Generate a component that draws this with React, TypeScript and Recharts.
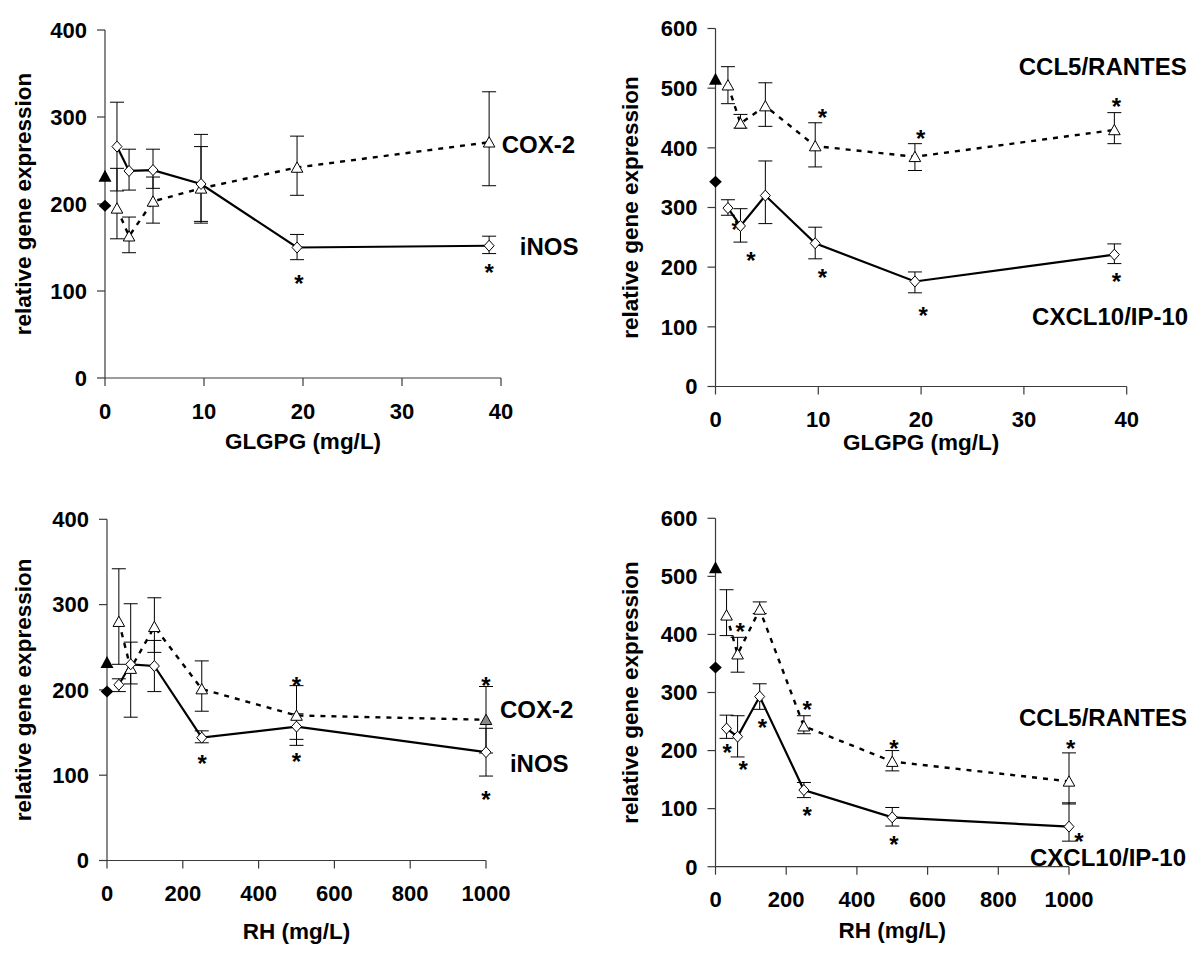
import React from 'react';
import { ComposedChart, Line, Scatter, XAxis, YAxis, ErrorBar, ReferenceDot } from 'recharts';

// ---------- data ----------
const glgpgDose = [1.21, 2.43, 4.85, 9.7, 19.4, 38.8];
const rhDose = [31.25, 62.5, 125, 250, 500, 1000];

const glgpgTicks = [0, 10, 20, 30, 40];
const rhTicks = [0, 200, 400, 600, 800, 1000];
const ticks400 = [0, 100, 200, 300, 400];
const ticks600 = [0, 100, 200, 300, 400, 500, 600];

// untreated controls (plotted at dose 0, filled symbols)
const controlCox2 = 232;
const controlInos = 198;
const controlCcl5 = 515;
const controlCxcl10 = 343;

// GLGPG: iNOS (solid, diamonds) / COX-2 (dashed, triangles)
const inosGlgpg = [266, 238, 239, 223, 150, 152];
const inosGlgpgErr = [[51, 51], [22, 25], [21, 24], [43, 43], [14, 15], [9, 11]];
const coxGlgpg = [195, 163, 203, 218, 242, 271];
const coxGlgpgErr = [[35, 46], [19, 22], [25, 28], [40, 62], [32, 36], [50, 58]];
const starsGlgpgA = [{ x: 19.6, y: 114 }, { x: 38.8, y: 126 }];
const labelsGlgpgA = [{ text: 'COX-2', x: 40.07, y: 268 }, { text: 'iNOS', x: 41.9, y: 151 }];

// GLGPG: CXCL10 (solid, diamonds) / CCL5 (dashed, triangles)
const cxcl10Glgpg = [299, 269, 320, 240, 176, 221];
const cxcl10GlgpgErr = [[12, 14], [27, 29], [47, 58], [26, 27], [19, 16], [15, 18]];
const ccl5Glgpg = [505, 441, 470, 403, 385, 430];
const ccl5GlgpgErr = [[31, 31], [8, 15], [34, 39], [35, 39], [23, 22], [23, 29]];
const starsGlgpgB = [
  { x: 2.0, y: 270 }, { x: 3.45, y: 218 }, { x: 10.4, y: 458 }, { x: 10.4, y: 190 },
  { x: 19.95, y: 424 }, { x: 20.2, y: 127 }, { x: 39.0, y: 477 }, { x: 39.0, y: 184 },
];
const labelsGlgpgB = [{ text: 'CCL5/RANTES', x: 29.5, y: 536 }, { text: 'CXCL10/IP-10', x: 30.8, y: 117 }];

// RH: iNOS / COX-2
const inosRh = [206, 230, 228, 144, 157, 127];
const inosRhErr = [[8, 7], [23, 26], [30, 30], [6, 8], [15, 15], [28, 28]];
const coxRh = [280, 225, 274, 201, 170, 165];
const coxRhErr = [[50, 62], [57, 76], [30, 34], [26, 33], [35, 35], [39, 39]];
const starsRhA = [
  { x: 251, y: 119 }, { x: 500, y: 210 }, { x: 500, y: 121 }, { x: 1000, y: 210 }, { x: 1000, y: 77 },
];
const labelsRhA = [{ text: 'COX-2', x: 1037, y: 177 }, { text: 'iNOS', x: 1063, y: 114 }];

// RH: CXCL10 / CCL5
const cxcl10Rh = [238, 224, 293, 132, 85, 69];
const cxcl10RhErr = [[17, 23], [35, 36], [22, 22], [13, 13], [15, 17], [25, 41]];
const ccl5Rh = [433, 366, 443, 242, 181, 147];
const ccl5RhErr = [[35, 44], [31, 29], [7, 13], [13, 18], [16, 19], [39, 49]];
const starsRhB = [
  { x: 33, y: 204 }, { x: 70, y: 413 }, { x: 78, y: 175 }, { x: 133, y: 247 },
  { x: 259, y: 278 }, { x: 259, y: 96 }, { x: 505, y: 211 }, { x: 505, y: 46 },
  { x: 1005, y: 212 }, { x: 1028, y: 52 },
];
const labelsRhB = [{ text: 'CCL5/RANTES', x: 858.6, y: 258 }, { text: 'CXCL10/IP-10', x: 889.7, y: 16 }];

// ---------- styles ----------
const FONT = '"Liberation Sans", Arial, Helvetica, sans-serif';
const AXIS = '#3a3a3a';

function buildRows(dose: number[], solid: number[], solidErr: number[][], dash: number[], dashErr: number[][]) {
  return dose.map((x, i) => ({ x, solid: solid[i], solidErr: solidErr[i], dash: dash[i], dashErr: dashErr[i] }));
}

const diamondDot = (props: any) => {
  const { cx, cy, index } = props;
  if (cx == null || cy == null) return <g key={`dn-${index}`} />;
  return (
    <path key={`d-${index}`} d={`M${cx},${cy - 5.5} L${cx + 5},${cy} L${cx},${cy + 5.5} L${cx - 5},${cy} Z`}
      fill="#fff" stroke="#000" strokeWidth={1} />
  );
};

const makeTriangleDot = (grayIndex: number) => (props: any) => {
  const { cx, cy, index } = props;
  if (cx == null || cy == null) return <g key={`tn-${index}`} />;
  return (
    <path key={`t-${index}`} d={`M${cx},${cy - 5.5} L${cx + 5.8},${cy + 4.8} L${cx - 5.8},${cy + 4.8} Z`}
      fill={index === grayIndex ? '#8a8a8a' : '#fff'} stroke="#000" strokeWidth={1} />
  );
};

const filledTriangle = (props: any) => {
  const { cx, cy } = props;
  return <path d={`M${cx},${cy - 6.5} L${cx + 6.5},${cy + 5.5} L${cx - 6.5},${cy + 5.5} Z`} fill="#000" />;
};
const filledDiamond = (props: any) => {
  const { cx, cy } = props;
  return <path d={`M${cx},${cy - 6} L${cx + 6.3},${cy} L${cx},${cy + 6} L${cx - 6.3},${cy} Z`} fill="#000" />;
};

const starShape = (props: any) => {
  const { cx, cy } = props;
  return (
    <text x={cx} y={cy + 13} textAnchor="middle" fontSize={24} fontWeight="bold" fontFamily={FONT} fill="#000">*</text>
  );
};

const makeLabelShape = (text: string) => (props: any) => {
  const { cx, cy } = props;
  return (
    <text x={cx} y={cy} dy="0.36em" textAnchor="start" fontSize={24} fontWeight="bold" fontFamily={FONT} fill="#000">{text}</text>
  );
};

type PanelProps = {
  left: number; top: number; width: number; height: number;
  margin: { top: number; right: number; bottom: number; left: number };
  yWidth: number; xHeight: number;
  xDomain: number[]; xTicks: number[]; yDomain: number[]; yTicks: number[];
  xTitle: string; xTitleY: number; yTitleX: number;
  rows: any[];
  controlSolid: number; controlDash: number;
  stars: { x: number; y: number }[];
  labels: { text: string; x: number; y: number }[];
  grayIndex: number;
};

function Panel(p: PanelProps) {
  const plotLeft = p.margin.left + p.yWidth;
  const plotRight = p.width - p.margin.right;
  const plotTop = p.margin.top;
  const plotBottom = p.height - p.margin.bottom - p.xHeight;
  const xMid = (plotLeft + plotRight) / 2;
  const yMid = (plotTop + plotBottom) / 2;
  const tickStyle = { fill: '#000', fontSize: 22, fontWeight: 'bold', fontFamily: FONT };
  const titleStyle = { fontSize: 22.5, fontWeight: 'bold' as const, fontFamily: FONT, fill: '#000' };
  const ctrlSolid = [{ x: 0, y: p.controlSolid }];
  const ctrlDash = [{ x: 0, y: p.controlDash }];
  return (
    <div style={{ position: 'absolute', left: p.left, top: p.top, width: p.width, height: p.height }}>
      <ComposedChart width={p.width} height={p.height} data={p.rows} margin={p.margin}>
        <XAxis type="number" dataKey="x" domain={p.xDomain} ticks={p.xTicks} interval={0} height={p.xHeight}
          tickSize={8} tickMargin={17}
          axisLine={{ stroke: AXIS, strokeWidth: 1.2 }} tickLine={{ stroke: AXIS, strokeWidth: 1.2 }}
          tick={tickStyle}
          label={() => (
            <text x={xMid} y={p.xTitleY} dy="0.36em" textAnchor="middle" {...titleStyle}>{p.xTitle}</text>
          )} />
        <YAxis type="number" domain={p.yDomain} ticks={p.yTicks} interval={0} width={p.yWidth}
          tickSize={8} tickMargin={10}
          axisLine={{ stroke: AXIS, strokeWidth: 1.2 }} tickLine={{ stroke: AXIS, strokeWidth: 1.2 }}
          tick={tickStyle}
          label={() => (
            <text x={p.yTitleX} y={yMid} dy="0.36em" textAnchor="middle"
              transform={`rotate(-90 ${p.yTitleX} ${yMid})`} {...titleStyle}>relative gene expression</text>
          )} />
        <Line dataKey="dash" stroke="#000" strokeWidth={2.4} strokeDasharray="5 6" dot={makeTriangleDot(p.grayIndex)}
          activeDot={false} isAnimationActive={false}>
          <ErrorBar dataKey="dashErr" width={7} stroke="#000" strokeWidth={1} direction="y" />
        </Line>
        <Line dataKey="solid" stroke="#000" strokeWidth={2.2} dot={diamondDot} activeDot={false} isAnimationActive={false}>
          <ErrorBar dataKey="solidErr" width={7} stroke="#000" strokeWidth={1} direction="y" />
        </Line>
        <Scatter data={ctrlDash} dataKey="y" shape={filledTriangle} isAnimationActive={false} />
        <Scatter data={ctrlSolid} dataKey="y" shape={filledDiamond} isAnimationActive={false} />
        {p.stars.map((s, i) => (
          <ReferenceDot key={`s-${i}`} x={s.x} y={s.y} r={0} ifOverflow="visible" shape={starShape} />
        ))}
        {p.labels.map((l, i) => (
          <ReferenceDot key={`l-${i}`} x={l.x} y={l.y} r={0} ifOverflow="visible" shape={makeLabelShape(l.text)} />
        ))}
      </ComposedChart>
    </div>
  );
}

export default function App() {
  return (
    <div style={{ position: 'absolute', left: 0, top: 0, width: 1200, height: 954, background: '#fff' }}>
      <Panel left={0} top={0} width={600} height={477}
        margin={{ top: 30, right: 99, bottom: 0, left: 0 }} yWidth={105} xHeight={99}
        xDomain={[0, 40]} xTicks={glgpgTicks} yDomain={[0, 400]} yTicks={ticks400}
        xTitle="GLGPG (mg/L)" xTitleY={441} yTitleX={23}
        rows={buildRows(glgpgDose, inosGlgpg, inosGlgpgErr, coxGlgpg, coxGlgpgErr)}
        controlSolid={controlInos} controlDash={controlCox2}
        stars={starsGlgpgA} labels={labelsGlgpgA} grayIndex={-1} />
      <Panel left={600} top={0} width={600} height={477}
        margin={{ top: 28.5, right: 73.3, bottom: 0, left: 0 }} yWidth={115.5} xHeight={90.5}
        xDomain={[0, 40]} xTicks={glgpgTicks} yDomain={[0, 600]} yTicks={ticks600}
        xTitle="GLGPG (mg/L)" xTitleY={442} yTitleX={30}
        rows={buildRows(glgpgDose, cxcl10Glgpg, cxcl10GlgpgErr, ccl5Glgpg, ccl5GlgpgErr)}
        controlSolid={controlCxcl10} controlDash={controlCcl5}
        stars={starsGlgpgB} labels={labelsGlgpgB} grayIndex={-1} />
      <Panel left={0} top={477} width={600} height={477}
        margin={{ top: 42.3, right: 114, bottom: 0, left: 0 }} yWidth={107} xHeight={93.5}
        xDomain={[0, 1000]} xTicks={rhTicks} yDomain={[0, 400]} yTicks={ticks400}
        xTitle="RH (mg/L)" xTitleY={454} yTitleX={23}
        rows={buildRows(rhDose, inosRh, inosRhErr, coxRh, coxRhErr)}
        controlSolid={controlInos} controlDash={controlCox2}
        stars={starsRhA} labels={labelsRhA} grayIndex={5} />
      <Panel left={600} top={477} width={600} height={477}
        margin={{ top: 41.3, right: 131, bottom: 0, left: 0 }} yWidth={115.5} xHeight={87.3}
        xDomain={[0, 1000]} xTicks={rhTicks} yDomain={[0, 600]} yTicks={ticks600}
        xTitle="RH (mg/L)" xTitleY={453} yTitleX={30}
        rows={buildRows(rhDose, cxcl10Rh, cxcl10RhErr, ccl5Rh, ccl5RhErr)}
        controlSolid={controlCxcl10} controlDash={controlCcl5}
        stars={starsRhB} labels={labelsRhB} grayIndex={-1} />
    </div>
  );
}
